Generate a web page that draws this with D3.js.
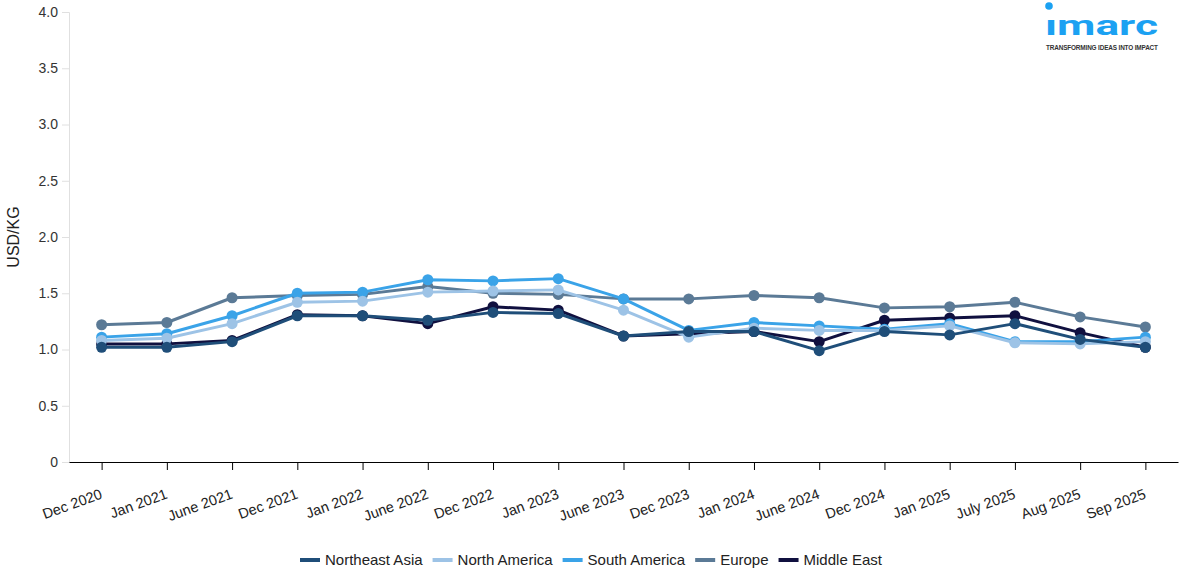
<!DOCTYPE html>
<html>
<head>
<meta charset="utf-8">
<script src="https://cdn.jsdelivr.net/npm/d3@7"></script>
<style>
body { margin: 0; background: #fff; font-family: "Liberation Sans", Arial, sans-serif; }
svg text { font-family: "Liberation Sans", Arial, sans-serif; }
</style>
</head>
<body>
<div id="chart"></div>
<script>
//----------------
//Data
//----------------
var categories = ['Dec 2020','Jan 2021','June 2021','Dec 2021','Jan 2022','June 2022','Dec 2022','Jan 2023',
	'June 2023','Dec 2023','Jan 2024','June 2024','Dec 2024','Jan 2025','July 2025','Aug 2025','Sep 2025']

var northeastAsia = [1.02,1.02,1.07,1.30,1.30,1.26,1.33,1.32,1.12,1.16,1.16,0.99,1.16,1.13,1.23,1.09,1.02]
var northAmerica  = [1.08,1.10,1.23,1.42,1.43,1.51,1.52,1.53,1.35,1.11,1.19,1.17,1.17,1.21,1.06,1.05,1.07]
var southAmerica  = [1.11,1.14,1.30,1.50,1.51,1.62,1.61,1.63,1.45,1.17,1.24,1.21,1.18,1.23,1.07,1.07,1.11]
var europe        = [1.22,1.24,1.46,1.48,1.49,1.56,1.50,1.49,1.45,1.45,1.48,1.46,1.37,1.38,1.42,1.29,1.20]
var middleEast    = [1.05,1.05,1.08,1.31,1.30,1.23,1.38,1.35,1.12,1.14,1.16,1.07,1.26,1.28,1.30,1.15,1.02]

var seriesNames = ['Northeast Asia','North America','South America','Europe','Middle East']
var seriesValues = [northeastAsia, northAmerica, southAmerica, europe, middleEast]
var seriesColors = ['#1f4e79','#9dc3e6','#3aa3e8','#5b7a96','#10103f']
var yTicks = [0,0.5,1,1.5,2,2.5,3,3.5,4]

//----------------
//Layout
//----------------
var _width = 1187,
	_height = 581
var _margin = { left: 69, right: 9, top: 12, bottom: 119 }

var _svg = d3.select('#chart').append('svg')
	.attr('width', _width)
	.attr('height', _height)

var x = d3.scalePoint()
	.domain(categories)
	.range([_margin.left, _width - _margin.right])
	.padding(0.5)

var y = d3.scaleLinear()
	.domain([0, 4])
	.range([_height - _margin.bottom, _margin.top])

//Y axis
var yAxis = _svg.append('g')
	.attr('transform', 'translate(' + _margin.left + ',0)')
	.call(d3.axisLeft(y).tickValues(yTicks).tickSize(7).tickPadding(4)
		.tickFormat(function(d){ return d === 0 ? '0' : d.toFixed(1) }))
yAxis.select('.domain').attr('stroke', '#e0e0e0')
yAxis.selectAll('.tick line').attr('stroke', '#e0e0e0')
yAxis.selectAll('.tick text').attr('fill', '#333').style('font-size', '14px')

_svg.append('text')
	.attr('transform', 'translate(19,' + ((_margin.top + _height - _margin.bottom) / 2) + ') rotate(-90)')
	.attr('text-anchor', 'middle')
	.attr('fill', '#222')
	.style('font-size', '16px')
	.text('USD/KG')

//X axis
var xAxis = _svg.append('g')
	.attr('transform', 'translate(0,' + (_height - _margin.bottom) + ')')
	.call(d3.axisBottom(x).tickSize(8).tickSizeOuter(0))
xAxis.select('.domain').attr('stroke', '#000').attr('stroke-width', 1.2)
xAxis.selectAll('.tick line').attr('stroke', '#000')
xAxis.selectAll('.tick text')
	.attr('fill', '#222')
	.style('font-size', '14.5px')
	.attr('text-anchor', 'end')
	.attr('dy', 0)
	.attr('y', 0)
	.attr('transform', 'translate(1,36) rotate(-20)')

//Lines, drawn last series first
var line = d3.line()
	.x(function(d, i){ return x(categories[i]) })
	.y(function(d){ return y(d) })

var gSeries = _svg.append('g')
for ( var s = seriesNames.length - 1; s >= 0; s-- ){
	var g = gSeries.append('g')
	g.append('path')
		.datum(seriesValues[s])
		.attr('fill', 'none')
		.attr('stroke', seriesColors[s])
		.attr('stroke-width', 3)
		.attr('stroke-linejoin', 'round')
		.attr('d', line)
	g.selectAll('circle').data(seriesValues[s]).enter().append('circle')
		.attr('cx', function(d, i){ return x(categories[i]) })
		.attr('cy', function(d){ return y(d) })
		.attr('r', 5.5)
		.attr('fill', seriesColors[s])
}

//Legend
var legend = _svg.append('g')
var lx = 300
seriesNames.forEach(function(name, i){
	var item = legend.append('g').attr('transform', 'translate(' + lx + ',560)')
	item.append('rect')
		.attr('x', 0).attr('y', -2)
		.attr('width', 20).attr('height', 4)
		.attr('fill', seriesColors[i])
	var t = item.append('text')
		.attr('x', 25).attr('y', 0).attr('dy', '0.35em')
		.attr('fill', '#222')
		.style('font-size', '15px')
		.text(name)
	lx += 25 + t.node().getComputedTextLength() + 10
})

//Logo
var logo = _svg.append('g').attr('transform', 'translate(1045,0)')
logo.append('circle').attr('cx', 4).attr('cy', 6).attr('r', 3.8).attr('fill', '#1ba1f2')
logo.append('text')
	.attr('x', 0).attr('y', 35)
	.attr('fill', '#1ba1f2')
	.style('font-family', 'Roboto, sans-serif')
	.style('font-size', '27px')
	.style('font-weight', '700')
	.attr('textLength', 113)
	.attr('lengthAdjust', 'spacingAndGlyphs')
	.text('\u0131marc')
logo.append('text')
	.attr('x', 1).attr('y', 50)
	.attr('fill', '#333')
	.style('font-size', '6.4px')
	.style('font-weight', 'bold')
	.attr('textLength', 112)
	.text('TRANSFORMING IDEAS INTO IMPACT')
</script>
</body>
</html>
